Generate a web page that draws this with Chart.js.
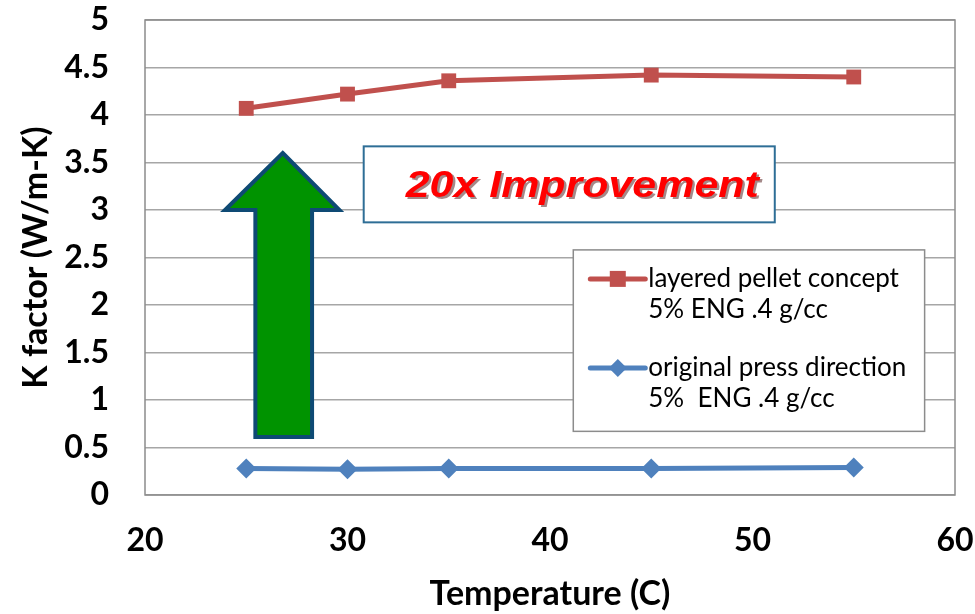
<!DOCTYPE html>
<html><head><meta charset="utf-8">
<script src="https://cdn.jsdelivr.net/npm/chart.js@4/dist/chart.umd.min.js"></script>
<style>html,body{margin:0;padding:0;background:#fff}#wrap{width:975px;height:614px}</style>
</head><body><div id="wrap"><canvas id="c" width="975" height="614"></canvas></div>
<script>
const temperatures = [25, 30, 35, 45, 55];
const layeredPellet = [4.07, 4.22, 4.36, 4.42, 4.40];
const originalPress = [0.28, 0.27, 0.28, 0.28, 0.29];
const seriesNames = [["layered pellet concept", "5% ENG .4 g/cc"], ["original press direction", "5%  ENG .4 g/cc"]];
const xTicks = [20, 30, 40, 50, 60];
const yTicks = [0, 0.5, 1, 1.5, 2, 2.5, 3, 3.5, 4, 4.5, 5];
const xTitle = "Temperature (C)";
const yTitle = "K factor (W/m-K)";
const calloutText = "20x Improvement";

const RED = '#C0504D', BLUE = '#4F81BD';
const FONT = 'Lato, "Open Sans", sans-serif';

const decor = {
  id: 'decor',
  beforeDatasetsDraw(chart) {
    const {ctx, chartArea: a, scales: {x, y}} = chart;
    ctx.save();
    ctx.strokeStyle = '#8c8c8c'; ctx.lineWidth = 1.5;
    ctx.strokeRect(a.left, a.top, a.right - a.left, a.bottom - a.top);
    // green arrow
    const px = v => x.getPixelForValue(v), py = v => y.getPixelForValue(v);
    ctx.beginPath();
    ctx.moveTo(px(26.8), py(3.6));
    ctx.lineTo(px(29.6), py(3.0));
    ctx.lineTo(px(28.25), py(3.0));
    ctx.lineTo(px(28.25), py(0.61));
    ctx.lineTo(px(25.45), py(0.61));
    ctx.lineTo(px(25.45), py(3.0));
    ctx.lineTo(px(23.95), py(3.0));
    ctx.closePath();
    ctx.fillStyle = '#009300'; ctx.fill();
    ctx.strokeStyle = '#0E4A74'; ctx.lineWidth = 4; ctx.lineJoin = 'miter'; ctx.stroke();
    // callout box
    const bx1 = px(30.8), bx2 = px(51.1), by1 = py(3.67), by2 = py(2.87);
    ctx.fillStyle = '#fff'; ctx.fillRect(bx1, by1, bx2 - bx1, by2 - by1);
    ctx.strokeStyle = '#2E6E96'; ctx.lineWidth = 2; ctx.strokeRect(bx1, by1, bx2 - bx1, by2 - by1);
    const cx = (bx1 + bx2) / 2 + 13, cy = (by1 + by2) / 2 + 2;
    ctx.save();
    ctx.translate(cx, cy); ctx.scale(1.16, 1);
    ctx.font = 'italic bold 37px "Liberation Sans", Arial, sans-serif';
    ctx.textAlign = 'center'; ctx.textBaseline = 'middle';
    ctx.fillStyle = 'rgba(90,40,40,0.55)'; ctx.fillText(calloutText, 2, 2);
    ctx.fillStyle = '#FF0000'; ctx.fillText(calloutText, 0, 0);
    ctx.restore();
    // legend box
    const lx1 = px(41.15), lx2 = px(58.5), ly1 = py(2.58), ly2 = py(0.67);
    ctx.fillStyle = '#fff'; ctx.fillRect(lx1, ly1, lx2 - lx1, ly2 - ly1);
    ctx.strokeStyle = '#8c8c8c'; ctx.lineWidth = 1.5; ctx.strokeRect(lx1, ly1, lx2 - lx1, ly2 - ly1);
    const items = [{c: RED, shape: 'sq', y: ly1 + 29}, {c: BLUE, shape: 'dm', y: ly1 + 118}];
    ctx.font = '26px ' + FONT; ctx.textAlign = 'left'; ctx.textBaseline = 'middle';
    items.forEach((it, i) => {
      const sx = lx1 + 17, ex = lx1 + 72, mx = (sx + ex) / 2;
      ctx.strokeStyle = it.c; ctx.lineWidth = 5; ctx.lineCap = 'round';
      ctx.beginPath(); ctx.moveTo(sx, it.y); ctx.lineTo(ex, it.y); ctx.stroke();
      ctx.fillStyle = it.c;
      if (it.shape === 'sq') ctx.fillRect(mx - 8, it.y - 8, 16, 16);
      else { ctx.beginPath(); ctx.moveTo(mx, it.y - 9); ctx.lineTo(mx + 9, it.y); ctx.lineTo(mx, it.y + 9); ctx.lineTo(mx - 9, it.y); ctx.closePath(); ctx.fill(); }
      ctx.fillStyle = '#000';
      ctx.fillText(seriesNames[i][0], lx1 + 75, it.y);
      ctx.fillText(seriesNames[i][1], lx1 + 75, it.y + 31);
    });
    ctx.restore();
  }
};

const noPad = s => { s.paddingTop = 0; s.paddingBottom = 0; s.paddingLeft = 0; s.paddingRight = 0; };

new Chart(document.getElementById('c'), {
  type: 'scatter',
  data: {
    datasets: [
      {label: seriesNames[0].join(' '), data: temperatures.map((t, i) => ({x: t, y: layeredPellet[i]})),
       showLine: true, borderColor: RED, backgroundColor: RED, borderWidth: 5,
       pointStyle: 'rect', pointRadius: 10.5, pointHoverRadius: 10.5, pointBorderWidth: 0},
      {label: seriesNames[1].join(' '), data: temperatures.map((t, i) => ({x: t, y: originalPress[i]})),
       showLine: true, borderColor: BLUE, backgroundColor: BLUE, borderWidth: 5,
       pointStyle: 'rectRot', pointRadius: 10, pointHoverRadius: 10, pointBorderWidth: 0}
    ]
  },
  options: {
    responsive: false, animation: false, devicePixelRatio: 1,
    layout: {padding: {top: 20, right: 20, left: 0, bottom: 0}},
    plugins: {legend: {display: false}, tooltip: {enabled: false}},
    scales: {
      x: {type: 'linear', min: 20, max: 60,
          afterBuildTicks: s => { s.ticks = xTicks.map(v => ({value: v})); },
          grid: {display: false, drawTicks: false}, border: {display: false},
          ticks: {color: '#000', font: {family: FONT, size: 32, weight: 'bold'}, padding: 26, maxRotation: 0,
                  callback: v => String(v)},
          title: {display: true, text: xTitle, color: '#000', font: {family: FONT, size: 34, weight: 'bold'}, padding: {top: 8, bottom: 0}},
          afterFit: s => { s.height = 119; noPad(s); }},
      y: {type: 'linear', min: 0, max: 5,
          afterBuildTicks: s => { s.ticks = yTicks.map(v => ({value: v})); },
          grid: {color: '#a6a6a6', lineWidth: 1.5, drawTicks: false}, border: {display: false},
          ticks: {color: '#000', font: {family: FONT, size: 32, weight: 'bold'}, padding: 36,
                  callback: v => String(v)},
          title: {display: true, text: yTitle, color: '#000', font: {family: FONT, size: 34, weight: 'bold'}, padding: {top: 16, bottom: 0}},
          afterFit: s => { s.width = 145; noPad(s); }}
    }
  },
  plugins: [decor]
});
</script></body></html>
